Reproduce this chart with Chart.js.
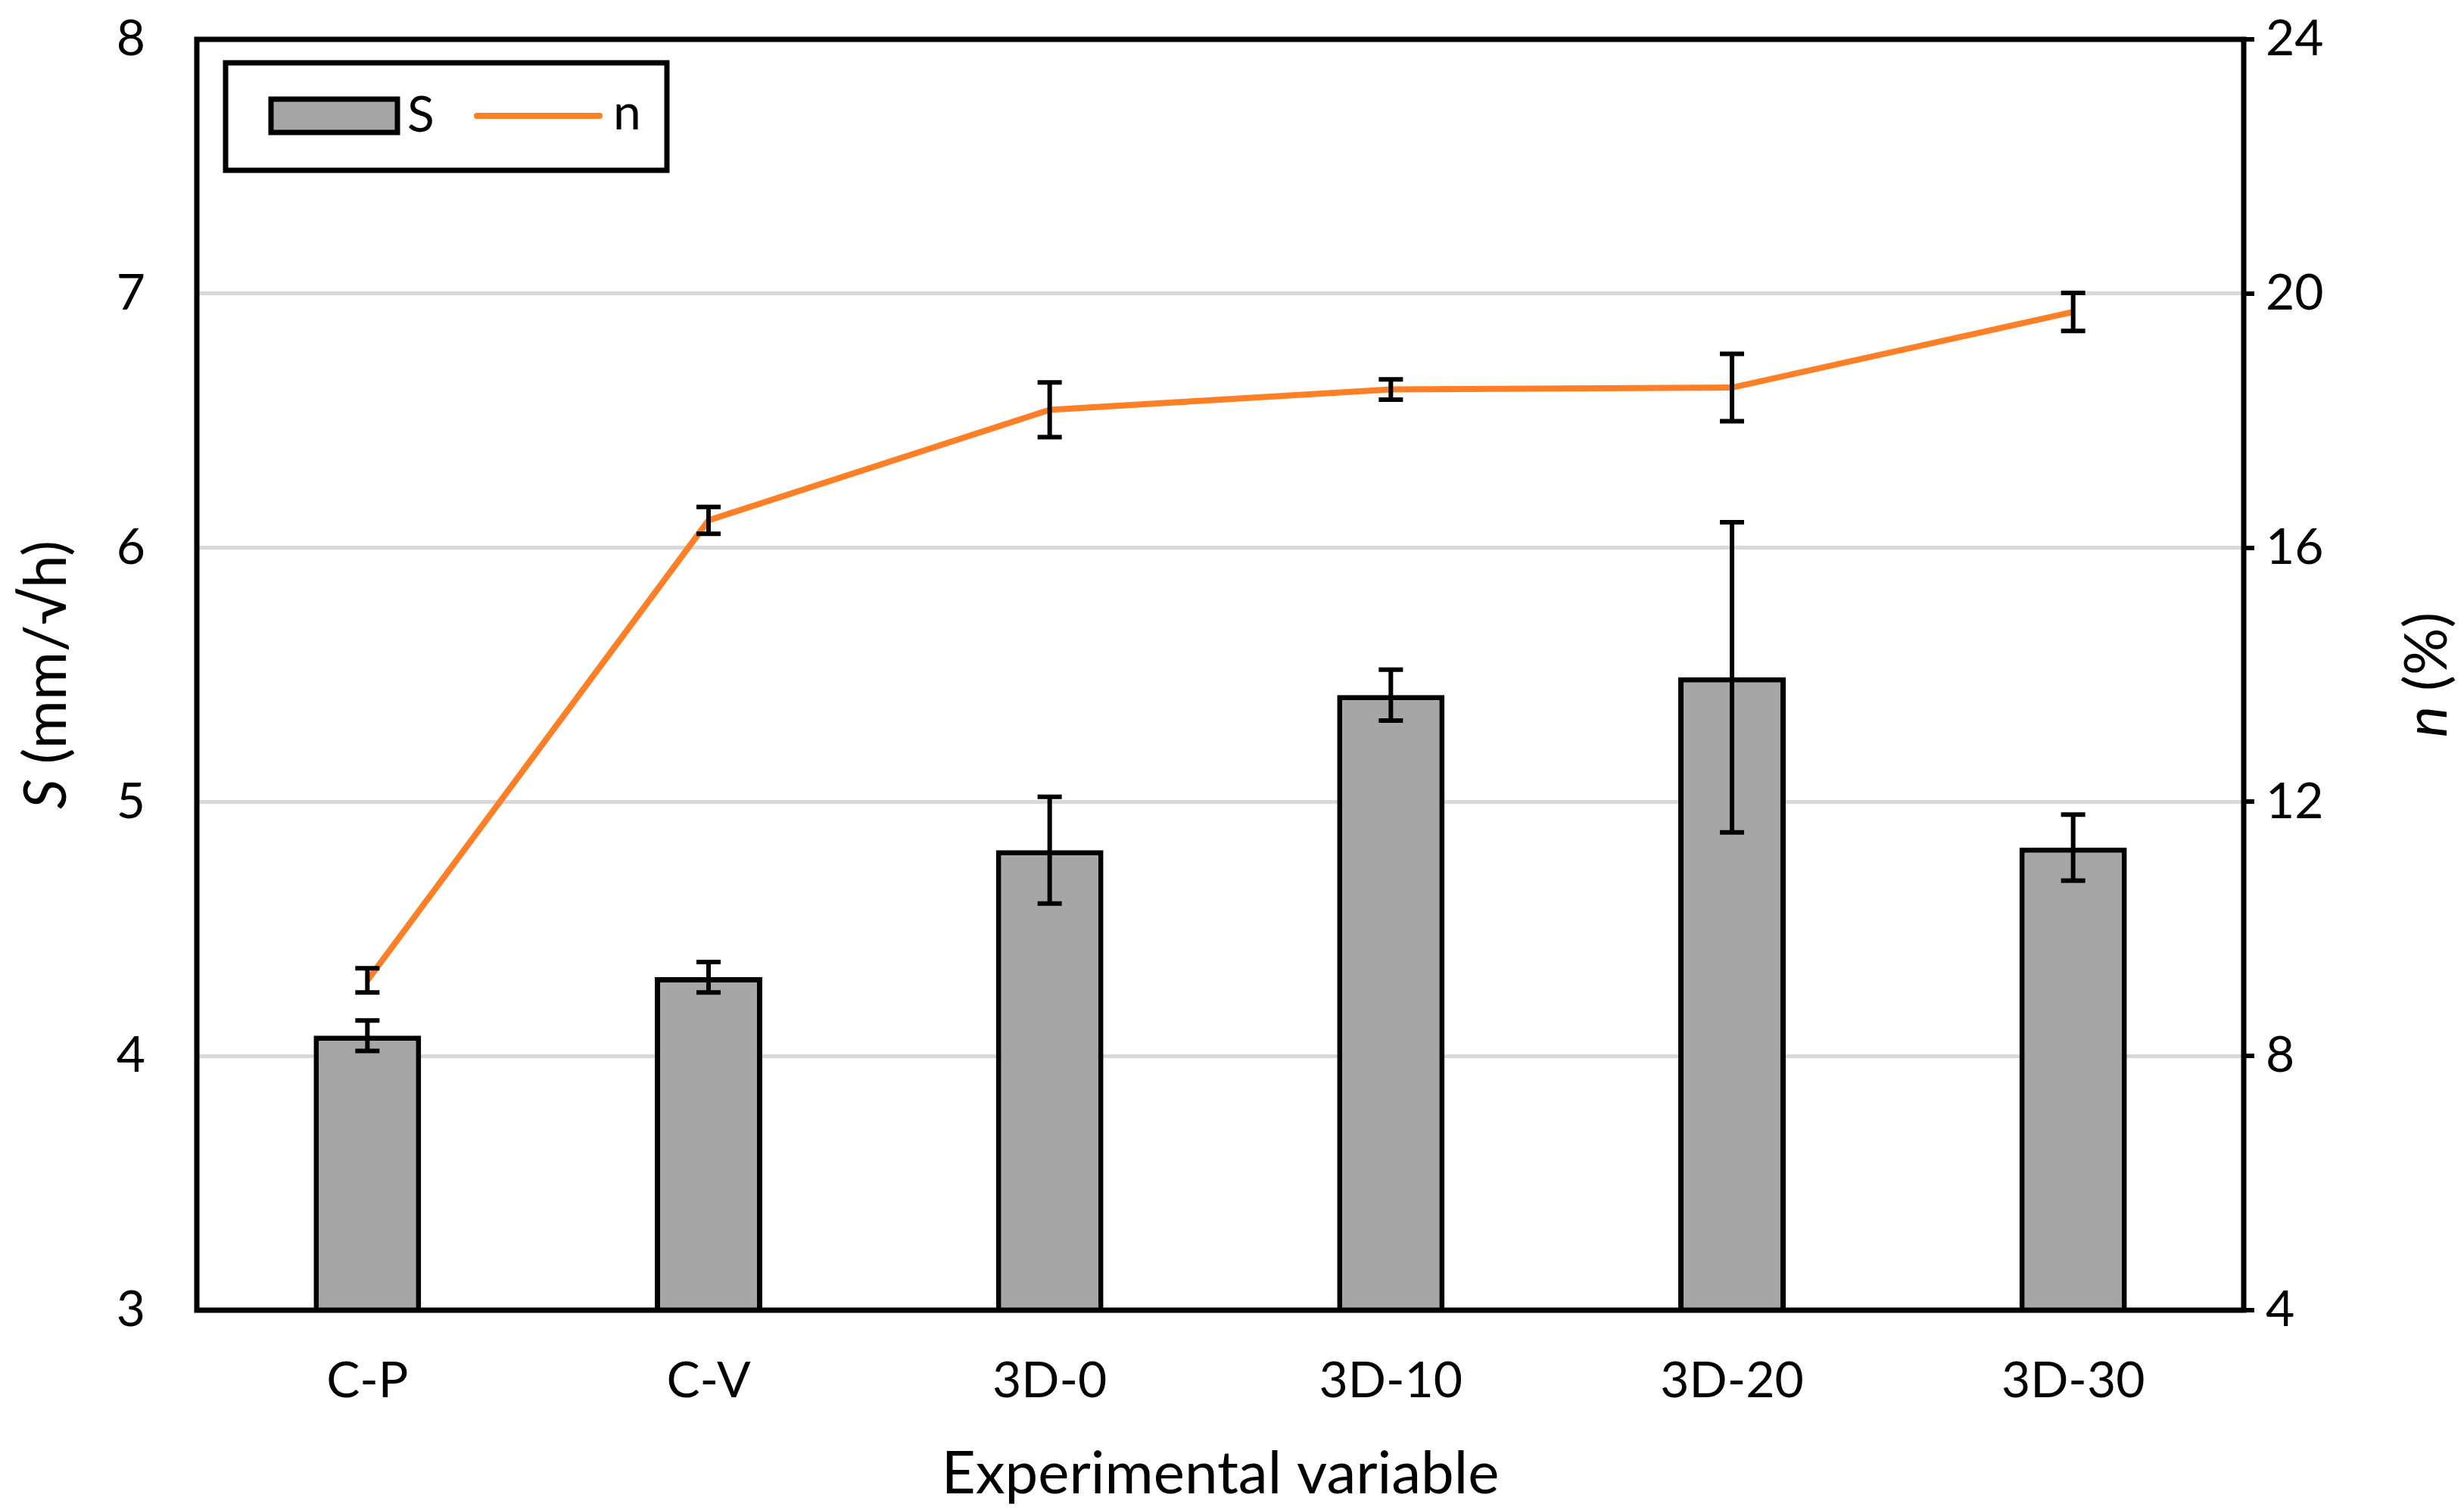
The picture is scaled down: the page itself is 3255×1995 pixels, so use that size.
<!DOCTYPE html>
<html>
<head>
	<meta charset="utf-8">
	<title>S and n by experimental variable</title>
	<style>
		html, body { margin: 0; padding: 0; background: #fff; }
		canvas { display: block; }
	</style>
</head>
<body>
<canvas id="graph" width="3255" height="1995"></canvas>
<script src="https://cdn.jsdelivr.net/npm/chart.js@4.4.1/dist/chart.umd.min.js"></script>
<script>
	// data
	const categories = ['C-P', 'C-V', '3D-0', '3D-10', '3D-20', '3D-30'];
	const sValues = [4.08, 4.31, 4.81, 5.42, 5.49, 4.82];
	const sErrors = [0.06, 0.06, 0.21, 0.10, 0.61, 0.13];
	const nValues = [9.19, 16.43, 18.17, 18.49, 18.52, 19.71];
	const nErrors = [0.19, 0.21, 0.43, 0.16, 0.53, 0.30];

	const sTicks = [3, 4, 5, 6, 7, 8];
	const nTicks = [4, 8, 12, 16, 20, 24];

	const xTitle = 'Experimental variable';
	const sTitle = ['S', ' (mm/\u221Ah)'];
	const nTitle = ['n', ' (%)'];

	const FONT = 'Lato';
	const orange = '#ff7f27';
	const grey = '#a6a6a6';

	const errorBars = {
		id: 'errorBars',
		afterDatasetsDraw(chart) {
			const ctx = chart.ctx;
			chart.data.datasets.forEach((ds, di) => {
				const meta = chart.getDatasetMeta(di);
				const scale = chart.scales[meta.yAxisID];
				ctx.save();
				ctx.strokeStyle = '#000';
				ctx.lineWidth = 6;
				meta.data.forEach((el, i) => {
					const v = ds.data[i], e = ds.errors[i];
					const top = scale.getPixelForValue(v + e);
					const bot = scale.getPixelForValue(v - e);
					const x = el.x, cap = 16;
					ctx.beginPath();
					ctx.moveTo(x, top); ctx.lineTo(x, bot);
					ctx.moveTo(x - cap, top); ctx.lineTo(x + cap, top);
					ctx.moveTo(x - cap, bot); ctx.lineTo(x + cap, bot);
					ctx.stroke();
				});
				ctx.restore();
			});
		}
	};

	const frameAndText = {
		id: 'frameAndText',
		afterDraw(chart) {
			const ctx = chart.ctx;
			const a = chart.chartArea;
			ctx.save();

			// plot frame
			ctx.strokeStyle = '#000';
			ctx.lineWidth = 7;
			ctx.strokeRect(a.left, a.top, a.right - a.left, a.bottom - a.top);

			// axis titles
			ctx.fillStyle = '#000';
			ctx.textBaseline = 'middle';
			const cy = (a.top + a.bottom) / 2;
			const tSize = 78;

			function rotated(parts, x) {
				ctx.save();
				ctx.translate(x, cy);
				ctx.rotate(-Math.PI / 2);
				ctx.font = 'italic ' + tSize + 'px ' + FONT;
				const w0 = ctx.measureText(parts[0]).width;
				ctx.font = tSize + 'px ' + FONT;
				const w1 = ctx.measureText(parts[1]).width;
				let sx = -(w0 + w1) / 2;
				ctx.textAlign = 'left';
				ctx.font = 'italic ' + tSize + 'px ' + FONT;
				ctx.fillText(parts[0], sx, 0);
				ctx.font = tSize + 'px ' + FONT;
				ctx.fillText(parts[1], sx + w0, 0);
				ctx.restore();
			}
			rotated(sTitle, 62);
			rotated(nTitle, 3207);

			ctx.font = tSize + 'px ' + FONT;
			ctx.textAlign = 'center';
			ctx.fillText(xTitle, (a.left + a.right) / 2, 1948);

			// legend
			const bx = 298, by = 83, bw = 583, bh = 142;
			ctx.fillStyle = '#fff';
			ctx.fillRect(bx, by, bw, bh);
			ctx.lineWidth = 7;
			ctx.strokeRect(bx, by, bw, bh);

			const bar = chart.data.datasets[1], line = chart.data.datasets[0];
			ctx.fillStyle = bar.backgroundColor;
			ctx.fillRect(358, 131, 167, 44);
			ctx.strokeRect(358, 131, 167, 44);

			ctx.strokeStyle = line.borderColor;
			ctx.lineWidth = 8;
			ctx.lineCap = 'round';
			ctx.beginPath();
			ctx.moveTo(630, 153); ctx.lineTo(792, 153);
			ctx.stroke();

			ctx.fillStyle = '#000';
			ctx.font = '66px ' + FONT;
			ctx.textAlign = 'left';
			ctx.fillText(bar.label, 538, 153);
			ctx.fillText(line.label, 810, 150);
			ctx.restore();
		}
	};

	// fixed axis sizes so the plot area sits where the original does
	function fitV(width) {
		return function(s) {
			s.width = width;
			s.paddingTop = 0;
			s.paddingBottom = 0;
		};
	}

	new Chart(document.getElementById('graph').getContext('2d'), {
		data: {
			labels: categories,
			datasets: [{
				type: 'line',
				label: 'n',
				data: nValues,
				errors: nErrors,
				yAxisID: 'y1',
				borderColor: orange,
				borderWidth: 8,
				pointRadius: 0,
				tension: 0,
				order: 0
			}, {
				type: 'bar',
				label: 'S',
				data: sValues,
				errors: sErrors,
				yAxisID: 'y',
				backgroundColor: grey,
				borderColor: '#000',
				borderWidth: 7,
				borderSkipped: false,
				barPercentage: 0.315,
				categoryPercentage: 1,
				order: 1
			}]
		},
		options: {
			responsive: false,
			animation: false,
			devicePixelRatio: 1,
			layout: { padding: { top: 52, left: 0, right: 0, bottom: 0 } },
			plugins: {
				legend: { display: false },
				tooltip: { enabled: false }
			},
			scales: {
				x: {
					grid: { display: false },
					border: { display: false },
					ticks: { color: '#000', font: { family: FONT, size: 66 }, padding: 46 },
					afterFit(s) { s.height = 264; s.paddingLeft = 0; s.paddingRight = 0; }
				},
				y: {
					position: 'left',
					min: sTicks[0],
					max: sTicks[sTicks.length - 1],
					afterBuildTicks(s) { s.ticks = sTicks.map(v => ({ value: v })); },
					grid: { color: '#d9d9d9', lineWidth: 5, drawTicks: false },
					border: { display: false },
					ticks: { color: '#000', font: { family: FONT, size: 66 }, padding: 68 },
					afterFit: fitV(260)
				},
				y1: {
					position: 'right',
					min: nTicks[0],
					max: nTicks[nTicks.length - 1],
					afterBuildTicks(s) { s.ticks = nTicks.map(v => ({ value: v })); },
					grid: { drawOnChartArea: false, color: '#000', lineWidth: 6, tickLength: 14 },
					border: { display: false },
					ticks: { color: '#000', font: { family: FONT, size: 66 }, padding: 15 },
					afterFit: fitV(291)
				}
			}
		},
		plugins: [errorBars, frameAndText]
	});
</script>
</body>
</html>
